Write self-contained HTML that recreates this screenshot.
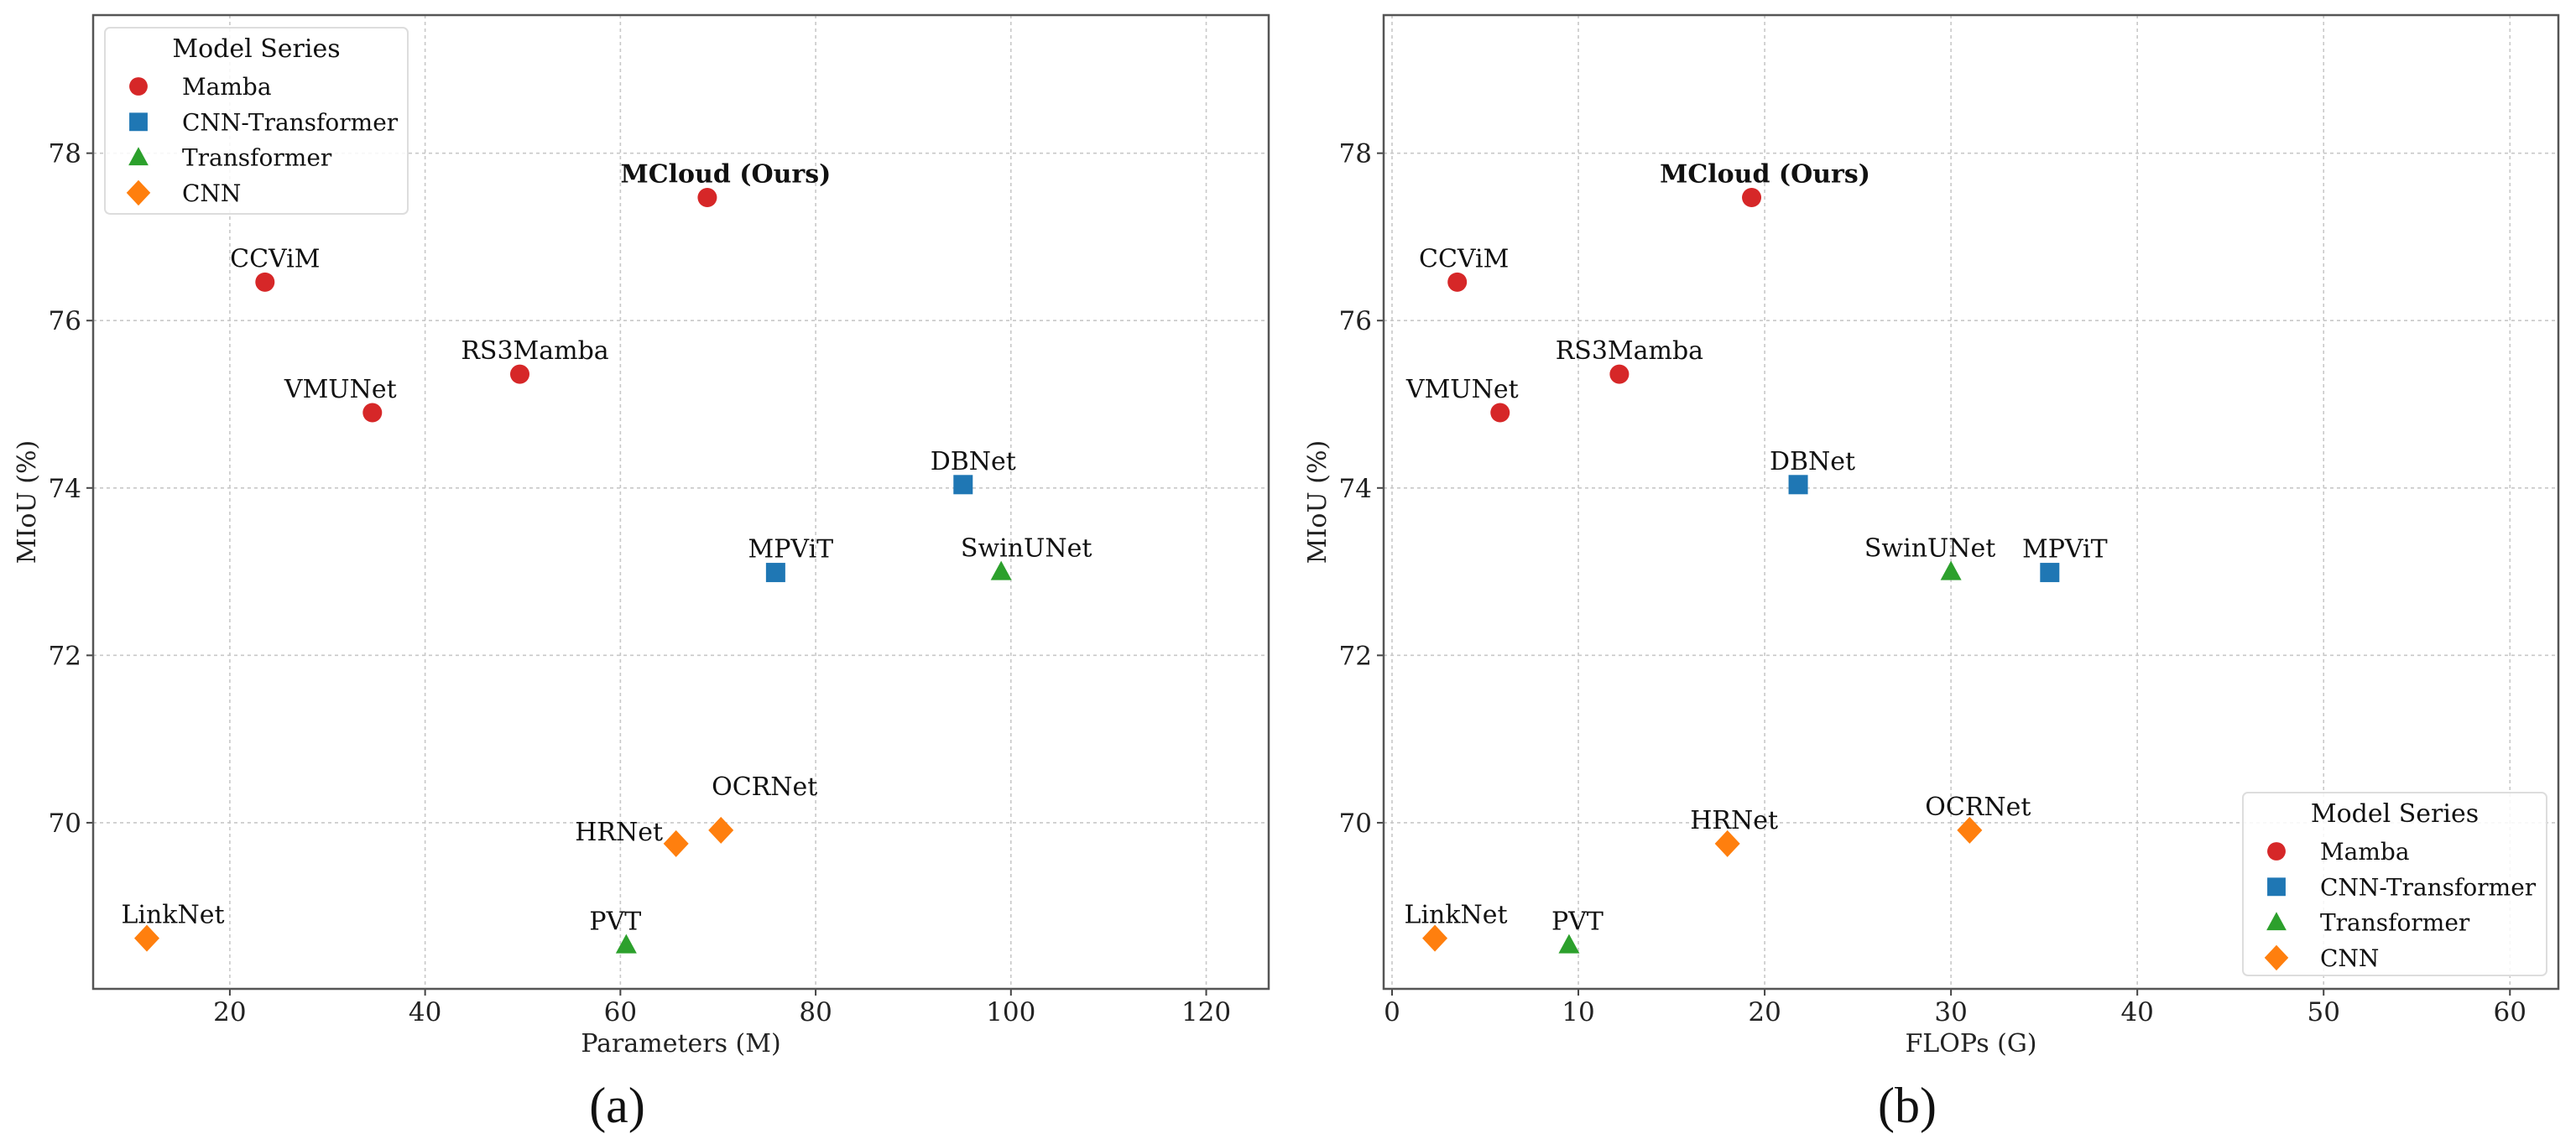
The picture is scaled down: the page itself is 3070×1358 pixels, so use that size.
<!DOCTYPE html>
<html><head><meta charset="utf-8"><style>
html,body{margin:0;padding:0;background:#fff;}
svg{display:block;font-family:"DejaVu Serif","Liberation Serif",serif;}
</style></head><body>
<svg id="chart" width="3070" height="1358" viewBox="0 0 3070 1358" xmlns="http://www.w3.org/2000/svg"></svg>
<script>
const models = ["MCloud (Ours)","CCViM","RS3Mamba","VMUNet","DBNet","MPViT","SwinUNet","OCRNet","HRNet","PVT","LinkNet"];
const seriesOf = ["Mamba","Mamba","Mamba","Mamba","CNN-Transformer","CNN-Transformer","Transformer","CNN","CNN","Transformer","CNN"];
const miou = [77.47,76.46,75.36,74.90,74.04,72.99,73.00,69.91,69.75,68.54,68.62];
const params = [68.9,23.6,49.7,34.6,95.1,75.9,99.0,70.3,65.7,60.6,11.5];
const flops = [19.3,3.5,12.2,5.8,21.8,35.3,30.0,31.0,18.0,9.5,2.3];
const yTicks = [70,72,74,76,78];
const xTicksA = [20,40,60,80,100,120];
const xTicksB = [0,10,20,30,40,50,60];
const legendSeries = ["Mamba","CNN-Transformer","Transformer","CNN"];

// styling (not data)
const colors = {"Mamba":"#d62728","CNN-Transformer":"#1f77b4","Transformer":"#2ca02c","CNN":"#ff7f0e"};
const labOffA = [[22,-18],[12,-18],[18,-18],[-38,-18],[12,-18],[18,-18],[30,-18],[52,-42],[-68,-4],[-13,-18],[31,-18]];
const labOffB = [[16,-18],[8,-18],[12,-18],[-45,-18],[17,-18],[18,-18],[-25,-18],[10,-18],[8,-18],[10,-18],[25,-18]];

const NS="http://www.w3.org/2000/svg";
const svg=document.getElementById('chart');
function el(tag,attrs,parent,text){const e=document.createElementNS(NS,tag);for(const k in attrs)e.setAttribute(k,attrs[k]);if(text!==undefined)e.textContent=text;(parent||svg).appendChild(e);return e;}

function marker(g,series,cx,cy,s){
  let m;
  const c=colors[series];
  if(series==="Mamba"){m=el('circle',{cx:cx,cy:cy,r:11.5*s,fill:c},g);}
  else if(series==="CNN-Transformer"){m=el('rect',{x:cx-11.5*s,y:cy-11.5*s,width:23*s,height:23*s,fill:c},g);}
  else if(series==="Transformer"){m=el('polygon',{points:`${cx},${cy-13*s} ${cx+12.5*s},${cy+10*s} ${cx-12.5*s},${cy+10*s}`,fill:c},g);}
  else {m=el('polygon',{points:`${cx},${cy-16*s} ${cx+15*s},${cy} ${cx},${cy+16*s} ${cx-15*s},${cy}`,fill:c},g);}
  return m;
}

function panel(opt){
  const {left,right,top,bottom,xmin,xmax,ymin,ymax,xs,xTicks,xlabel,tag,labOff,legend,name}=opt;
  const g=el('g',{});
  
  
  const X=v=>left+(v-xmin)/(xmax-xmin)*(right-left);
  const Y=v=>bottom-(v-ymin)/(ymax-ymin)*(bottom-top);
  // grid
  xTicks.forEach(t=>{const l=el('line',{x1:X(t),x2:X(t),y1:top,y2:bottom,stroke:'#c8c8c8','stroke-width':1.6,'stroke-dasharray':'4 4'},g);
    
    });
  yTicks.forEach(t=>{const l=el('line',{x1:left,x2:right,y1:Y(t),y2:Y(t),stroke:'#c8c8c8','stroke-width':1.6,'stroke-dasharray':'4 4'},g);
    
    });
  // ticks
  xTicks.forEach(t=>{el('line',{x1:X(t),x2:X(t),y1:bottom,y2:bottom+8,stroke:'#444','stroke-width':2},g);
    const tx=el('text',{x:X(t),y:bottom+38,'text-anchor':'middle','font-size':31,fill:'#222'},g,String(t));
    
    });
  yTicks.forEach(t=>{el('line',{x1:left-8,x2:left,y1:Y(t),y2:Y(t),stroke:'#444','stroke-width':2},g);
    const tx=el('text',{x:left-14,y:Y(t)+11,'text-anchor':'end','font-size':31,fill:'#222'},g,String(t));
    
    });
  // spines
  const fr=el('rect',{x:left,y:top,width:right-left,height:bottom-top,fill:'none',stroke:'#555','stroke-width':2.5},g);
  
  
  // points
  models.forEach((m,i)=>{
    const cx=X(xs[i]),cy=Y(miou[i]);
    const mk=marker(g,seriesOf[i],cx,cy,1);
    
    
    const lb=el('text',{x:cx+labOff[i][0],y:cy+labOff[i][1],'text-anchor':'middle','font-size':30,fill:'#111','font-weight':i===0?'bold':'normal'},g,m);
    
    
  });
  // axis labels
  const xl=el('text',{x:(left+right)/2,y:bottom+75,'text-anchor':'middle','font-size':30,fill:'#222'},g,xlabel);
  
  
  const yl=el('text',{x:left-79,y:(top+bottom)/2,'text-anchor':'middle','font-size':30,fill:'#222',transform:`rotate(-90 ${left-79} ${(top+bottom)/2})`,dy:10},g,'MIoU (%)');
  
  
  const cap=el('text',{x:(left+right)/2-76,y:1338,'text-anchor':'middle','font-size':60,fill:'#111','font-family':'"Liberation Serif",serif'},g,tag);
  
  
  // legend
  const lg=el('g',{},g);
  
  
  el('rect',{x:legend.x,y:legend.y,width:legend.w,height:legend.h,rx:6,fill:'#fff','fill-opacity':0.85,stroke:'#ddd','stroke-width':2},lg);
  const lt=el('text',{x:legend.x+legend.w/2,y:legend.y+35,'text-anchor':'middle','font-size':30,fill:'#111'},lg,'Model Series');
  
  
  legendSeries.forEach((s,k)=>{
    const cy=legend.y+70+k*42.3;
    const mk=marker(lg,s,legend.x+40,cy,0.95);
    
    
    const t=el('text',{x:legend.x+92,y:cy+10,'font-size':28,fill:'#111'},lg,s);
    
    
  });
}

panel({name:'panel-a-params',left:111,right:1512,top:18,bottom:1179,xmin:6.0,xmax:126.4,ymin:68.015,ymax:79.65,xs:params,xTicks:xTicksA,xlabel:'Parameters (M)',tag:'(a)',labOff:labOffA,legend:{x:125,y:33,w:361,h:222}});
panel({name:'panel-b-flops',left:1649,right:3049,top:18,bottom:1179,xmin:-0.45,xmax:62.6,ymin:68.015,ymax:79.65,xs:flops,xTicks:xTicksB,xlabel:'FLOPs (G)',tag:'(b)',labOff:labOffB,legend:{x:2673,y:945,w:362,h:218}});
</script>
</body></html>
